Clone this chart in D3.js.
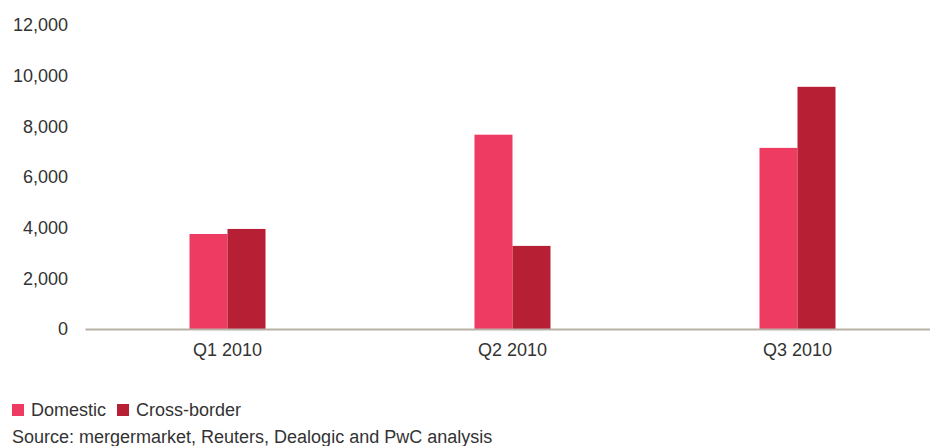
<!DOCTYPE html>
<html>
<head>
<meta charset="utf-8">
<script src="https://cdn.jsdelivr.net/npm/d3@7"></script>
<style>
  html, body { margin: 0; padding: 0; background: #fff; }
  svg text { font-family: "Liberation Sans", Arial, Helvetica, sans-serif; fill: #333; }
</style>
</head>
<body>
<svg id="chart" width="930" height="446"></svg>
<script>
// Deal value by quarter, split by deal type
const quarters = ["Q1 2010", "Q2 2010", "Q3 2010"];
const seriesNames = ["Domestic", "Cross-border"];
const domestic = [3750, 7670, 7150];
const crossBorder = [3950, 3280, 9560];
const yTicks = [0, 2000, 4000, 6000, 8000, 10000, 12000];
const colors = ["#ee3b62", "#b71f34"];

const svg = d3.select("#chart");
const margin = { left: 85, right: -10, top: 25, bottom: 117 };
const width = 930 - margin.left - margin.right;
const height = 446 - margin.top - margin.bottom;
const fontSize = "18px";

const g = svg.append("g").attr("transform", `translate(${margin.left},${margin.top})`);

const x = d3.scaleBand().domain(quarters).range([0, width]).padding(0);
const xInner = d3.scaleBand().domain(seriesNames).range([0, 76]);
const y = d3.scaleLinear().domain([0, 12000]).range([height, 0]);

const rows = quarters.map((q, i) => ({ q, vals: [domestic[i], crossBorder[i]] }));

// bars
const groups = g.selectAll(".grp").data(rows).join("g")
  .attr("transform", d => `translate(${x(d.q) + x.bandwidth() / 2 - 38},0)`);
groups.selectAll("rect").data(d => d.vals.map((v, j) => ({ name: seriesNames[j], v, j })))
  .join("rect")
  .attr("x", d => xInner(d.name))
  .attr("width", xInner.bandwidth())
  .attr("y", d => y(d.v))
  .attr("height", d => height - y(d.v))
  .attr("fill", d => colors[d.j]);

// y axis labels
const yAxis = d3.axisLeft(y).tickValues(yTicks).tickFormat(d3.format(",")).tickSize(0).tickPadding(17);
const ya = g.append("g").call(yAxis);
ya.select(".domain").remove();
ya.selectAll("text").style("font-size", fontSize).attr("fill", "#333");

// x axis
const xAxis = d3.axisBottom(x).tickSize(0).tickPadding(14);
const xa = g.append("g").attr("transform", `translate(0,${height})`).call(xAxis);
xa.select(".domain").attr("stroke", "#b8afa7").attr("stroke-width", 2);
xa.selectAll("text").style("font-size", fontSize).attr("fill", "#333");

// legend
const legend = svg.append("g").attr("transform", "translate(12,404)");
let lx = 0;
seriesNames.forEach((name, i) => {
  legend.append("rect").attr("x", lx).attr("y", 0).attr("width", 12).attr("height", 12).attr("fill", colors[i]);
  const t = legend.append("text").attr("x", lx + 19).attr("y", 12).style("font-size", fontSize).text(name);
  lx += 19 + t.node().getComputedTextLength() + 11;
});

// source note
svg.append("text").attr("x", 12).attr("y", 443).style("font-size", fontSize)
  .text("Source: mergermarket, Reuters, Dealogic and PwC analysis");
</script>
</body>
</html>
